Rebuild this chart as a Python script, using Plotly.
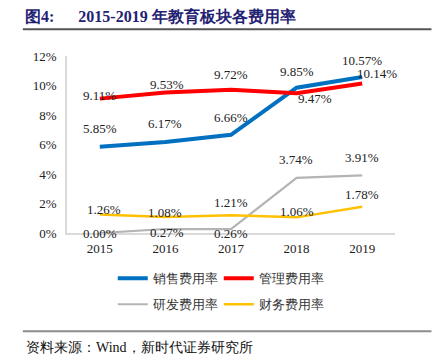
import plotly.graph_objects as go

years = ["2015", "2016", "2017", "2018", "2019"]
sales = [5.85, 6.17, 6.66, 9.85, 10.57]
admin = [9.11, 9.53, 9.72, 9.47, 10.14]
rnd = [0.00, 0.27, 0.26, 3.74, 3.91]
finance = [1.26, 1.08, 1.21, 1.06, 1.78]
names = ["销售费用率", "管理费用率", "研发费用率", "财务费用率"]
y_ticks = [0, 2, 4, 6, 8, 10, 12]
y_tick_text = ["0%", "2%", "4%", "6%", "8%", "10%", "12%"]

series = [sales, admin, rnd, finance]
colors = ["#0070C0", "#FF0000", "#B4B4B4", "#FFC000"]
widths = [4, 4, 2.2, 2.5]
legends = ["legend", "legend", "legend2", "legend2"]
# label offsets (px): (xshift, yshift)
offsets = [
    [(0, 18), (0, 18), (0, 17), (0, 16), (0, 17)],
    [(0, 3), (2, 8), (0, 15), (18, -5), (15, 10)],
    [(0, 0), (2, -3), (0, -4), (-1, 18), (0, 18)],
    [(4, 5), (0, 5), (0, 13), (0, 6), (0, 12)],
]

SERIF = "Liberation Serif"
fig = go.Figure()
for vals, nm, c, w, lg in zip(series, names, colors, widths, legends):
    fig.add_trace(go.Scatter(x=years, y=vals, mode="lines", name=nm,
                             line=dict(color=c, width=w), legend=lg,
                             hoverinfo="skip"))

annotations = []
for vals, offs in zip(series, offsets):
    for i, (v, (dx, dy)) in enumerate(zip(vals, offs)):
        annotations.append(dict(x=i, y=v, xref="x", yref="y", text=f"{v:.2f}%",
                                showarrow=False, xshift=dx, yshift=dy,
                                xanchor="center", yanchor="middle",
                                font=dict(family=SERIF, size=13, color="#222222")))

# page body adds an 8px offset; the figure is sized to fit the 440x359 window
OFF = 8
W, H = 440 - OFF, 359 - OFF
L, R, T, B = 67.2 - OFF, 44.5, 55.7 - OFF, 126.3
pw, ph = W - L - R, H - T - B

def px_x(px):
    return (px - OFF - L) / pw

def px_y(py):
    return (H - B - (py - OFF)) / ph

NB = "\u00a0"
annotations.append(dict(x=px_x(24), y=px_y(347), xref="paper", yref="paper",
                        text="资料来源：Wind，新时代证券研究所", showarrow=False,
                        xanchor="left", yanchor="middle",
                        font=dict(family=SERIF, size=14, color="#111111")))

shapes = [
    dict(type="line", xref="paper", yref="paper", x0=px_x(23), x1=px_x(432),
         y0=px_y(29), y1=px_y(29), layer="above",
         line=dict(color="#555555", width=2)),
    dict(type="line", xref="paper", yref="paper", x0=px_x(23), x1=px_x(432),
         y0=px_y(331), y1=px_y(331), layer="above",
         line=dict(color="#8C8C8C", width=2)),
]

leg_common = dict(orientation="h", xanchor="left", yanchor="middle",
                  entrywidth=61,
                  font=dict(family=SERIF, size=13, color="#333333"),
                  bgcolor="rgba(0,0,0,0)", borderwidth=0)

fig.update_layout(
    width=W, height=H, autosize=False,
    margin=dict(l=L, r=R, t=T, b=B, autoexpand=False),
    paper_bgcolor="white", plot_bgcolor="white",
    title=dict(text="<b>图4:" + NB * 6 + "2015-2019 年教育板块各费用率</b>",
               xref="container", yref="container",
               x=(25 - OFF) / W, y=1 - (16.5 - OFF) / H,
               xanchor="left", yanchor="middle",
               font=dict(family=SERIF, size=16, color="#1F2272")),
    showlegend=True,
    legend=dict(x=px_x(113), y=px_y(278), **leg_common),
    legend2=dict(x=px_x(113), y=px_y(304), **leg_common),
    annotations=annotations,
    shapes=shapes,
    xaxis=dict(type="category", range=[-0.5, 4.5], showline=True, linecolor="#D9D9D9",
               linewidth=1.5, showgrid=False, zeroline=False,
               ticks="outside", ticklen=3, tickcolor="rgba(0,0,0,0)",
               tickfont=dict(family=SERIF, size=13, color="#222222")),
    yaxis=dict(range=[0, 12], tickmode="array", tickvals=y_ticks, ticktext=y_tick_text,
               showline=True, linecolor="#D9D9D9", linewidth=1.5, showgrid=False,
               zeroline=False, ticks="outside", ticklen=6, tickcolor="rgba(0,0,0,0)",
               tickfont=dict(family=SERIF, size=13, color="#222222")),
)

fig.write_html("out.html")
